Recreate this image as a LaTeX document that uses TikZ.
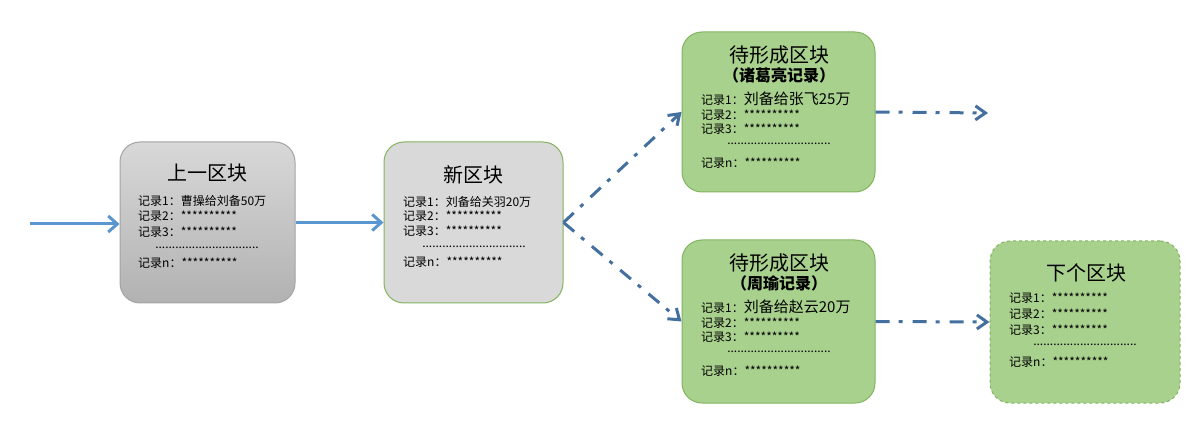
\documentclass[tikz,border=0pt]{standalone}
\usepackage{fontspec}
\setmainfont{Noto Sans CJK SC}
\usetikzlibrary{arrows.meta}
\definecolor{solblue}{HTML}{5A96CF}
\definecolor{dashblue}{HTML}{44709F}
\definecolor{grayTop}{HTML}{D8D8D8}
\definecolor{grayBot}{HTML}{B2B2B2}
\definecolor{grayEdge}{HTML}{A3A3A3}
\definecolor{lightGray}{HTML}{D9D9D9}
\definecolor{greenFill}{HTML}{A9D18E}
\definecolor{greenEdge}{HTML}{82B35E}
\tikzset{
  blk/.style={rectangle, rounded corners=20pt, line width=1pt, inner sep=0pt},
  ttl/.style={anchor=base, inner sep=0pt, font=\fontsize{20}{24}\selectfont},
  sub/.style={anchor=base, inner sep=0pt, font=\bfseries\fontsize{16}{19}\selectfont},
  rec/.style={anchor=base west, inner sep=0pt, font=\fontsize{12}{14}\selectfont},
  dotline/.style={anchor=base, inner sep=0pt, font=\fontsize{12}{14}\selectfont},
  solidarr/.style={draw=solblue, line width=3pt, -{Straight Barb[length=9pt,width=16pt]}},
  dasharr/.style={draw=dashblue, line width=3pt, dash pattern=on 14pt off 9pt on 4pt off 10pt, -{Straight Barb[length=10pt,width=14pt]}}
}
\newcommand{\bigrec}[1]{{\fontsize{15}{18}\selectfont #1}}
\begin{document}
\begin{tikzpicture}[x=1pt,y=-1pt]
\useasboundingbox (0,0) rectangle (1200,430);
% boxes
\node[blk, draw=grayEdge, top color=grayTop, bottom color=grayBot, minimum width=175pt, minimum height=161pt] (b1) at (207.5,222.5) {};
\node[blk, draw=greenEdge, fill=lightGray, minimum width=179pt, minimum height=161pt] (b2) at (473.5,222.5) {};
\node[blk, draw=greenEdge, fill=greenFill, minimum width=193pt, minimum height=160pt] (b3) at (778.5,112) {};
\node[blk, draw=greenEdge, fill=greenFill, minimum width=193pt, minimum height=163pt] (b4) at (778.5,321.5) {};
\node[blk, draw=greenEdge, fill=greenFill, dashed, minimum width=190pt, minimum height=162pt] (b5) at (1085,322) {};
% box 1
\node[ttl] (b1t) at (207.5,180.6) {上一区块};
\node[rec] (b1r1) at (138,205.6) {记录1：曹操给刘备50万};
\node[rec] (b1r2) at (138,220.6) {记录2：**********};
\node[rec] (b1r3) at (138,236.6) {记录3：**********};
\node[dotline] (b1d) at (207,248.5) {...............................};
\node[rec] (b1rn) at (138,267.6) {记录n：**********};
% box 2
\node[ttl] (b2t) at (473.5,182.6) {新区块};
\node[rec] (b2r1) at (403,206.6) {记录1：刘备给关羽20万};
\node[rec] (b2r2) at (403,220.6) {记录2：**********};
\node[rec] (b2r3) at (403,235.6) {记录3：**********};
\node[dotline] (b2d) at (474,248) {...............................};
\node[rec] (b2rn) at (403,266.6) {记录n：**********};
% box 3
\node[ttl] (b3t) at (779,62.6) {待形成区块};
\node[sub] (b3s) at (779,82) {（诸葛亮记录）};
\node[rec] (b3r1) at (701,104.7) {记录1：\bigrec{刘备给张飞25万}};
\node[rec] (b3r2) at (701,119.6) {记录2：**********};
\node[rec] (b3r3) at (701,133.6) {记录3：**********};
\node[dotline] (b3d) at (779,145) {...............................};
\node[rec] (b3rn) at (701,167.6) {记录n：**********};
% box 4
\node[ttl] (b4t) at (779,270.6) {待形成区块};
\node[sub] (b4s) at (779,290) {（周瑜记录）};
\node[rec] (b4r1) at (701,312.7) {记录1：\bigrec{刘备给赵云20万}};
\node[rec] (b4r2) at (701,327.6) {记录2：**********};
\node[rec] (b4r3) at (701,341.6) {记录3：**********};
\node[dotline] (b4d) at (779,353) {...............................};
\node[rec] (b4rn) at (701,375.6) {记录n：**********};
% box 5
\node[ttl] (b5t) at (1086,280.6) {下个区块};
\node[rec] (b5r1) at (1009,302.6) {记录1：**********};
\node[rec] (b5r2) at (1009,318.6) {记录2：**********};
\node[rec] (b5r3) at (1009,334.6) {记录3：**********};
\node[dotline] (b5d) at (1085,346) {...............................};
\node[rec] (b5rn) at (1009,366.6) {记录n：**********};
% connectors
\coordinate (in) at (30,224);
\coordinate (out) at (988,113);
\draw[solidarr] (in) -- (in -| b1.west);
\draw[solidarr] (b1.east) -- (b2.west);
\draw[dasharr] (b2.east) -- (b3.west);
\draw[dasharr] (b2.east) -- (b4.west);
\draw[dasharr] (b3.east) -- (out);
\draw[dasharr] (b4.east) -- (b5.west);
\end{tikzpicture}
\end{document}
